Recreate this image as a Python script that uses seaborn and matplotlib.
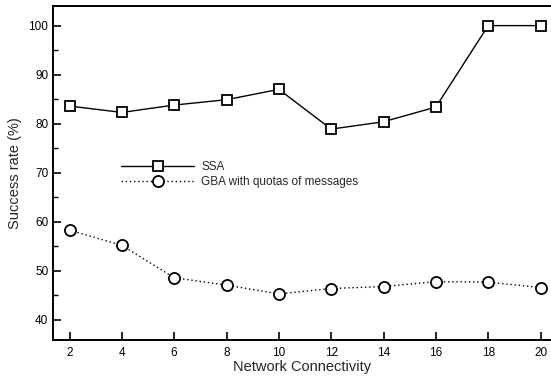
import matplotlib
matplotlib.use("Agg")
import matplotlib.pyplot as plt
from matplotlib.ticker import MultipleLocator
import seaborn as sns
import pandas as pd

connectivity = [2, 4, 6, 8, 10, 12, 14, 16, 18, 20]
ssa = [83.6, 82.3, 83.8, 84.9, 87.0, 78.9, 80.4, 83.4, 100.0, 100.0]
gba = [58.3, 55.2, 48.6, 47.1, 45.3, 46.4, 46.8, 47.8, 47.7, 46.6]
series_names = ["SSA", "GBA with quotas of messages"]

sns.set_theme(style="ticks")
plt.rcParams["font.family"] = ["Liberation Sans", "DejaVu Sans"]

fig = plt.figure(figsize=(5.51, 3.77), dpi=100)
ax = fig.add_axes([0.0967, 0.0981, 0.9033, 0.886])

df_ssa = pd.DataFrame({"x": connectivity, "y": ssa})
df_gba = pd.DataFrame({"x": connectivity, "y": gba})

sns.lineplot(data=df_ssa, x="x", y="y", ax=ax, color="black", lw=1.0,
             linestyle="-", marker="s", markersize=7.5, markerfacecolor="white",
             markeredgecolor="black", markeredgewidth=1.3, label=series_names[0])
sns.lineplot(data=df_gba, x="x", y="y", ax=ax, color="black", lw=1.0,
             linestyle=(0, (1, 2)), marker="o", markersize=8, markerfacecolor="white",
             markeredgecolor="black", markeredgewidth=1.3, label=series_names[1])

ax.set_xlim(1.38, 20.4)
ax.set_ylim(35.9, 104)
ax.set_xticks(connectivity)
ax.yaxis.set_major_locator(MultipleLocator(10))
ax.yaxis.set_minor_locator(MultipleLocator(5))
ax.set_yticks([40, 50, 60, 70, 80, 90, 100])

ax.tick_params(axis="both", which="major", direction="in", length=6, width=1.2,
               labelsize=8.5, color="black", labelcolor="black")
ax.tick_params(axis="y", which="minor", direction="in", length=3.5, width=1.0, color="black")
ax.tick_params(axis="x", which="major", pad=5)

for side in ["left", "top", "bottom"]:
    ax.spines[side].set_linewidth(1.4)
    ax.spines[side].set_color("black")
ax.spines["right"].set_visible(False)

ax.set_xlabel("Network Connectivity", fontsize=10.5, labelpad=1)
ax.set_ylabel("Success rate (%)", fontsize=10.5, labelpad=5)

leg = ax.legend(loc="center left", bbox_to_anchor=(0.115, 0.495), frameon=False,
                fontsize=8.5, handlelength=6.2, handletextpad=0.6, labelspacing=0.25)

fig.savefig("out.png", dpi=100)
